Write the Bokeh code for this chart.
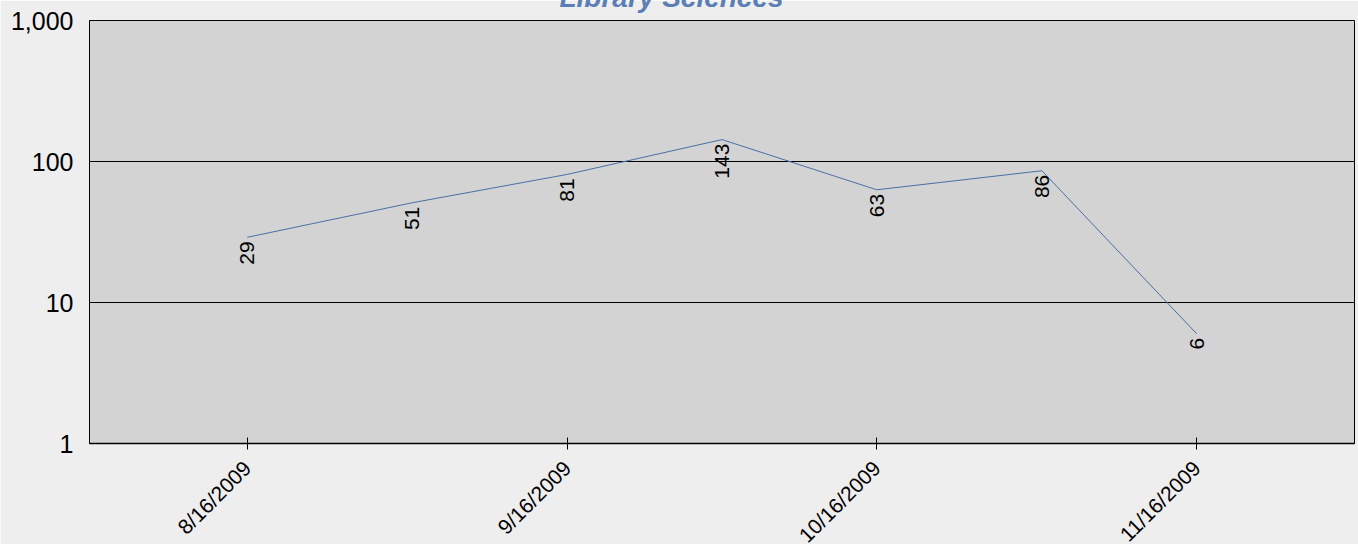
from datetime import datetime
from math import pi

from bokeh.plotting import figure
from bokeh.models import ColumnDataSource, FixedTicker, Range1d, Label
from bokeh.core.properties import value
from bokeh.embed import file_html
from bokeh.resources import INLINE

# ---- data ----
title_text = "Library Sciences"
dates = ["2009-08-16", "2009-09-01", "2009-09-16", "2009-10-01",
         "2009-10-16", "2009-11-01", "2009-11-16"]
counts = [29, 51, 81, 143, 63, 86, 6]
x_tick_dates = ["2009-08-16", "2009-09-16", "2009-10-16", "2009-11-16"]
x_tick_labels = ["8/16/2009", "9/16/2009", "10/16/2009", "11/16/2009"]
y_ticks = [1, 10, 100, 1000]
y_tick_labels = ["1", "10", "100", "1,000"]

EPOCH = datetime(1970, 1, 1)


def to_ms(d):
    return int((d - EPOCH).total_seconds() * 1000)


xs = [datetime.strptime(d, "%Y-%m-%d") for d in dates]
src = ColumnDataSource(dict(x=xs, y=counts, label=[str(c) for c in counts]))

FONT = "Liberation Sans"

# canvas is taller than the window: the rotated date labels run off the
# bottom edge, exactly as in the reference
p = figure(width=1358, height=600, x_axis_type="datetime", y_axis_type="log",
           output_backend="svg", toolbar_location=None,
           x_range=Range1d(datetime(2009, 7, 31, 17), datetime(2009, 12, 1, 7)),
           y_range=Range1d(1, 1000),
           min_border_left=89, min_border_right=4,
           min_border_top=20, min_border_bottom=157)

p.background_fill_color = "#D3D3D3"
p.border_fill_color = "#EEEEEE"
p.outline_line_color = "#000000"
p.outline_line_width = 1

# grid
p.xgrid.visible = False
p.ygrid.ticker = FixedTicker(ticks=y_ticks)
p.ygrid.grid_line_color = "#000000"
p.ygrid.grid_line_alpha = 1.0
p.ygrid.grid_line_width = 1

# y axis
ya = p.yaxis[0]
ya.ticker = FixedTicker(ticks=y_ticks, minor_ticks=[])
ya.major_label_overrides = {t: l for t, l in zip(y_ticks, y_tick_labels)}
ya.major_tick_line_color = None
ya.major_tick_in = 0
ya.major_tick_out = 0
ya.minor_tick_line_color = None
ya.minor_tick_in = 0
ya.minor_tick_out = 0
ya.axis_line_color = "#000000"
ya.major_label_text_font = FONT
ya.major_label_text_font_size = "25px"
ya.major_label_text_color = "#000000"
ya.major_label_standoff = 16

# x axis
xa = p.xaxis[0]
tick_ms = [to_ms(datetime.strptime(d, "%Y-%m-%d")) for d in x_tick_dates]
xa.ticker = FixedTicker(ticks=tick_ms, minor_ticks=[])
xa.major_label_overrides = {t: l for t, l in zip(tick_ms, x_tick_labels)}
xa.major_tick_in = 6
xa.major_tick_out = 6
xa.major_tick_line_color = "#000000"
xa.minor_tick_line_color = None
xa.minor_tick_out = 0
xa.axis_line_color = "#000000"
xa.axis_line_width = 1.5
xa.major_label_orientation = pi / 4
xa.major_label_text_font = FONT
xa.major_label_text_font_size = "21px"
xa.major_label_text_color = "#000000"
xa.major_label_standoff = 15

# series
p.line(x="x", y="y", source=src, line_color="#4A6FA5", line_width=1)
p.text(x="x", y="y", text="label", source=src, angle=pi / 2,
       text_align="right", text_baseline="middle", y_offset=4,
       text_font=value(FONT), text_font_size="21px", text_color="#000000")

# title: sits just above the plot area and is mostly cut off by the window's
# top edge, as in the reference. Held in a side panel so it is not clipped to
# the plot area; its height is taken from the (off-window) bottom border.
p.add_layout(Label(x=582, y=1456, x_units="screen", y_units="data",
                   text=title_text, text_align="center", text_baseline="alphabetic",
                   text_font=FONT, text_font_size="28px", text_font_style="bold italic",
                   text_color="#5A7EB5"), "below")

open("out.html", "w").write(file_html(p, INLINE))
